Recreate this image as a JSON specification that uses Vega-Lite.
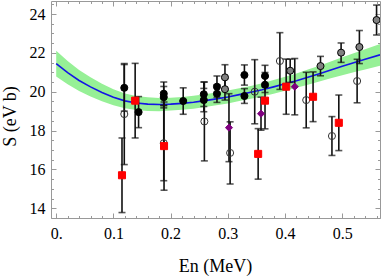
{
  "$schema": "https://vega.github.io/schema/vega-lite/v6.json",
  "width": 329,
  "height": 217,
  "autosize": {"type": "none"},
  "padding": {"left": 51, "top": 1, "right": 2, "bottom": 59},
  "background": "white",
  "config": {"view": {"stroke": "#999999", "strokeWidth": 1}, "font": "Liberation Serif"},
  "datasets": {
    "fit": [
      {"En": 0.0, "S": 21.45, "lo": 20.79, "hi": 22.11},
      {"En": 0.02, "S": 20.98, "lo": 20.38, "hi": 21.58},
      {"En": 0.04, "S": 20.58, "lo": 20.04, "hi": 21.12},
      {"En": 0.06, "S": 20.25, "lo": 19.76, "hi": 20.74},
      {"En": 0.08, "S": 19.96, "lo": 19.51, "hi": 20.41},
      {"En": 0.10, "S": 19.72, "lo": 19.31, "hi": 20.13},
      {"En": 0.12, "S": 19.53, "lo": 19.15, "hi": 19.91},
      {"En": 0.14, "S": 19.42, "lo": 19.06, "hi": 19.78},
      {"En": 0.16, "S": 19.36, "lo": 19.01, "hi": 19.71},
      {"En": 0.18, "S": 19.34, "lo": 19.00, "hi": 19.68},
      {"En": 0.20, "S": 19.36, "lo": 19.03, "hi": 19.69},
      {"En": 0.22, "S": 19.40, "lo": 19.07, "hi": 19.73},
      {"En": 0.24, "S": 19.46, "lo": 19.13, "hi": 19.79},
      {"En": 0.26, "S": 19.54, "lo": 19.21, "hi": 19.87},
      {"En": 0.28, "S": 19.63, "lo": 19.30, "hi": 19.96},
      {"En": 0.30, "S": 19.73, "lo": 19.40, "hi": 20.06},
      {"En": 0.32, "S": 19.85, "lo": 19.52, "hi": 20.18},
      {"En": 0.34, "S": 19.97, "lo": 19.64, "hi": 20.30},
      {"En": 0.36, "S": 20.10, "lo": 19.76, "hi": 20.44},
      {"En": 0.38, "S": 20.25, "lo": 19.90, "hi": 20.60},
      {"En": 0.40, "S": 20.41, "lo": 20.05, "hi": 20.77},
      {"En": 0.42, "S": 20.57, "lo": 20.20, "hi": 20.94},
      {"En": 0.44, "S": 20.75, "lo": 20.36, "hi": 21.14},
      {"En": 0.46, "S": 20.93, "lo": 20.52, "hi": 21.34},
      {"En": 0.48, "S": 21.12, "lo": 20.69, "hi": 21.55},
      {"En": 0.50, "S": 21.31, "lo": 20.85, "hi": 21.77},
      {"En": 0.52, "S": 21.49, "lo": 21.00, "hi": 21.98},
      {"En": 0.54, "S": 21.67, "lo": 21.15, "hi": 22.19},
      {"En": 0.566, "S": 21.90, "lo": 21.34, "hi": 22.46}
    ],
    "pts": [
      {"En": 0.119, "S": 20.2, "err": 1.2, "type": "b"},
      {"En": 0.144, "S": 18.95, "err": 0.8, "type": "b"},
      {"En": 0.188, "S": 19.9, "err": 0.6, "type": "b"},
      {"En": 0.188, "S": 19.72, "err": 0.55, "type": "b"},
      {"En": 0.222, "S": 19.52, "err": 0.68, "type": "b"},
      {"En": 0.258, "S": 19.87, "err": 0.63, "type": "b"},
      {"En": 0.258, "S": 19.57, "err": 0.6, "type": "b"},
      {"En": 0.281, "S": 20.26, "err": 0.55, "type": "b"},
      {"En": 0.281, "S": 19.9, "err": 0.45, "type": "b"},
      {"En": 0.329, "S": 20.86, "err": 0.52, "type": "b"},
      {"En": 0.329, "S": 19.78, "err": 0.38, "type": "b"},
      {"En": 0.365, "S": 20.81, "err": 0.55, "type": "b"},
      {"En": 0.365, "S": 20.36, "err": 0.4, "type": "b"},
      {"En": 0.295, "S": 20.74, "err": 0.65, "type": "g"},
      {"En": 0.295, "S": 20.13, "err": 0.56, "type": "g"},
      {"En": 0.409, "S": 21.08, "err": 0.6, "type": "g"},
      {"En": 0.462, "S": 21.32, "err": 0.5, "type": "g"},
      {"En": 0.498, "S": 22.01, "err": 0.5, "type": "g"},
      {"En": 0.53, "S": 22.3, "err": 0.85, "type": "g"},
      {"En": 0.56, "S": 23.69, "err": 0.77, "type": "g"},
      {"En": 0.119, "S": 18.85, "err": 2.6, "type": "o"},
      {"En": 0.188, "S": 17.35, "err": 1.93, "type": "o"},
      {"En": 0.259, "S": 18.47, "err": 2.03, "type": "o"},
      {"En": 0.304, "S": 16.85, "err": 1.6, "type": "o"},
      {"En": 0.347, "S": 20.0, "err": 1.65, "type": "o"},
      {"En": 0.391, "S": 21.58, "err": 1.46, "type": "o"},
      {"En": 0.437, "S": 19.57, "err": 1.43, "type": "o"},
      {"En": 0.482, "S": 17.72, "err": 1.0, "type": "o"},
      {"En": 0.526, "S": 20.55, "err": 1.12, "type": "o"},
      {"En": 0.115, "S": 15.7, "err": 1.92, "type": "r"},
      {"En": 0.138, "S": 19.54, "err": 1.92, "type": "r"},
      {"En": 0.1885, "S": 17.2, "err": 2.27, "type": "r"},
      {"En": 0.353, "S": 16.8, "err": 1.3, "type": "r"},
      {"En": 0.365, "S": 19.54, "err": 1.45, "type": "r"},
      {"En": 0.402, "S": 20.26, "err": 1.42, "type": "r"},
      {"En": 0.449, "S": 19.74, "err": 1.28, "type": "r"},
      {"En": 0.494, "S": 18.4, "err": 1.43, "type": "r"},
      {"En": 0.302, "S": 18.15, "err": 1.75, "type": "p"},
      {"En": 0.358, "S": 18.87, "err": 0.85, "type": "p"},
      {"En": 0.417, "S": 20.26, "err": 1.45, "type": "p"}
    ]
  },
  "layer": [
    {
      "data": {"name": "fit"},
      "mark": {"type": "area", "color": "#96f096", "clip": true},
      "encoding": {
        "x": {
          "field": "En", "type": "quantitative",
          "scale": {"domain": [-0.0091, 0.566], "nice": false, "zero": false},
          "axis": {
            "orient": "bottom",
            "values": [0, 0.02, 0.04, 0.06, 0.08, 0.1, 0.12, 0.14, 0.16, 0.18, 0.2, 0.22, 0.24, 0.26, 0.28, 0.3, 0.32, 0.34, 0.36, 0.38, 0.4, 0.42, 0.44, 0.46, 0.48, 0.5, 0.52, 0.54, 0.56],
            "labelExpr": "abs(datum.value*10-round(datum.value*10))<0.001 ? (datum.value == 0 ? '0.' : format(datum.value, '.1f')) : ''",
            "tickSize": {"condition": {"test": "abs(datum.value*10-round(datum.value*10))<0.001", "value": -5}, "value": -2.5},
            "tickColor": "#999999",
            "domain": false, "grid": false,
            "labelFont": "Liberation Serif", "labelFontSize": 16, "labelColor": "black",
            "labelPadding": 12, "labelFlush": false, "labelOverlap": false,
            "title": "En (MeV)", "titleFont": "Liberation Serif", "titleFontSize": 18,
            "titleFontWeight": "normal", "titleColor": "black",
            "titleX": 164, "titleY": 48, "titleBaseline": "middle", "titleAlign": "center"
          }
        },
        "y": {
          "field": "lo", "type": "quantitative",
          "scale": {"domain": [13.5, 24.67], "nice": false, "zero": false},
          "axis": {
            "orient": "left",
            "values": [13.5, 14, 14.5, 15, 15.5, 16, 16.5, 17, 17.5, 18, 18.5, 19, 19.5, 20, 20.5, 21, 21.5, 22, 22.5, 23, 23.5, 24, 24.5],
            "labelExpr": "datum.value % 2 == 0 ? format(datum.value, 'd') : ''",
            "tickSize": {"condition": {"test": "datum.value % 2 == 0", "value": -5}, "value": -2.5},
            "tickColor": "#999999",
            "domain": false, "grid": false,
            "labelFont": "Liberation Serif", "labelFontSize": 16, "labelColor": "black",
            "labelPadding": 11, "labelFlush": false, "labelOverlap": false,
            "title": "S (eV b)", "titleFont": "Liberation Serif", "titleFontSize": 18,
            "titleFontWeight": "normal", "titleColor": "black",
            "titleX": -41, "titleY": 115, "titleAngle": 270, "titleBaseline": "middle", "titleAlign": "center"
          }
        },
        "y2": {"field": "hi"}
      }
    },
    {
      "data": {"name": "fit"},
      "mark": {"type": "line", "color": "#1414e6", "strokeWidth": 1.6, "clip": true},
      "encoding": {
        "x": {
          "field": "En", "type": "quantitative",
          "axis": {
            "orient": "top",
            "values": [0, 0.02, 0.04, 0.06, 0.08, 0.1, 0.12, 0.14, 0.16, 0.18, 0.2, 0.22, 0.24, 0.26, 0.28, 0.3, 0.32, 0.34, 0.36, 0.38, 0.4, 0.42, 0.44, 0.46, 0.48, 0.5, 0.52, 0.54, 0.56],
            "labels": false, "title": null, "domain": false, "grid": false,
            "tickSize": {"condition": {"test": "abs(datum.value*10-round(datum.value*10))<0.001", "value": -5}, "value": -2.5},
            "tickColor": "#999999"
          }
        },
        "y": {
          "field": "S", "type": "quantitative",
          "axis": {
            "orient": "right",
            "values": [13.5, 14, 14.5, 15, 15.5, 16, 16.5, 17, 17.5, 18, 18.5, 19, 19.5, 20, 20.5, 21, 21.5, 22, 22.5, 23, 23.5, 24, 24.5],
            "labels": false, "title": null, "domain": false, "grid": false,
            "tickSize": {"condition": {"test": "datum.value % 2 == 0", "value": -5}, "value": -2.5},
            "tickColor": "#999999"
          }
        }
      }
    },
    {
      "data": {"name": "pts"},
      "mark": {
        "type": "errorbar", "clip": true,
        "rule": {"strokeWidth": 1.6, "color": "#111111"},
        "ticks": {"size": 7, "thickness": 1.6, "color": "#111111"}
      },
      "encoding": {
        "x": {"field": "En", "type": "quantitative", "axis": null},
        "y": {"field": "S", "type": "quantitative", "axis": null},
        "yError": {"field": "err"}
      }
    },
    {
      "data": {"name": "pts"},
      "mark": {"type": "point", "filled": true, "strokeWidth": 1, "opacity": 1, "clip": true},
      "encoding": {
        "x": {"field": "En", "type": "quantitative", "axis": null},
        "y": {"field": "S", "type": "quantitative", "axis": null},
        "shape": {"field": "type", "type": "nominal", "scale": {"domain": ["b", "g", "o", "r", "p"], "range": ["circle", "circle", "circle", "square", "diamond"]}, "legend": null},
        "fill": {"field": "type", "type": "nominal", "scale": {"domain": ["b", "g", "o", "r", "p"], "range": ["#000000", "#808080", "rgba(255,255,255,0)", "#ff0000", "#800080"]}, "legend": null},
        "stroke": {"field": "type", "type": "nominal", "scale": {"domain": ["b", "g", "o", "r", "p"], "range": ["#000000", "#000000", "#333333", "#ff0000", "#800080"]}, "legend": null},
        "size": {"field": "type", "type": "ordinal", "scale": {"domain": ["b", "g", "o", "r", "p"], "range": [50, 50, 66, 40, 50]}, "legend": null}
      }
    }
  ],
  "resolve": {"axis": {"x": "independent", "y": "independent"}}
}
